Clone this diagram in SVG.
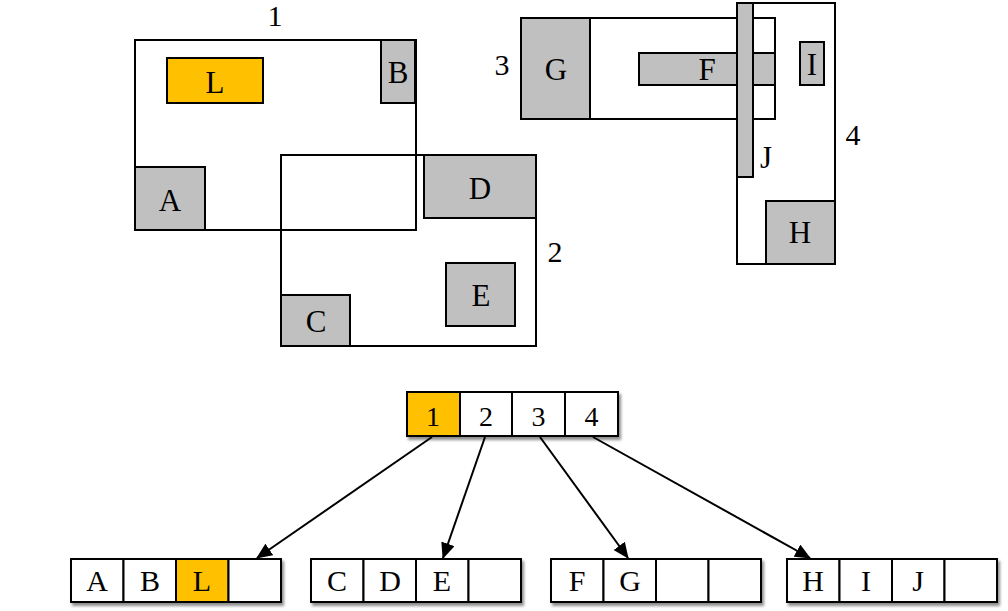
<svg xmlns="http://www.w3.org/2000/svg" width="1008" height="611" viewBox="0 0 1008 611">
<style>
text{font-family:"Liberation Serif","Times New Roman",serif;font-size:31px;fill:#000;text-anchor:middle}
.n{font-size:30px}
.t{font-size:30px}
.o{fill:none;stroke:#000;stroke-width:2}
.g{fill:#C0C0C0;stroke:#000;stroke-width:2}
.y{fill:#FFC000;stroke:#000;stroke-width:2}
.c{fill:#fff;stroke:#000;stroke-width:2}
.cy{fill:#FFC000;stroke:#000;stroke-width:2}
.d{font-size:28px}
.e{stroke:#000;stroke-width:2;fill:none}
</style>
<defs>
<filter id="sh" x="-10%" y="-20%" width="130%" height="160%">
<feDropShadow dx="2" dy="3" stdDeviation="1.5" flood-color="#000" flood-opacity="0.45"/>
</filter>
<marker id="ah" markerWidth="16" markerHeight="14" refX="15" refY="7" orient="auto" markerUnits="userSpaceOnUse">
<path d="M0,0 L16,7 L0,14 Z" fill="#000"/>
</marker>
</defs>
<rect width="1008" height="611" fill="#fff"/>

<g id="region1">
<rect class="o" x="135" y="40" width="281" height="190"/>
<text class="n" x="275" y="26">1</text>
</g>
<g id="region2">
<rect class="o" x="281" y="155" width="255" height="191"/>
<text class="n" x="555" y="262">2</text>
</g>
<g id="L"><rect class="y" x="167" y="58" width="96" height="45"/><text x="215" y="93">L</text></g>
<g id="B"><rect class="g" x="381" y="40" width="34" height="63"/><text x="398" y="83">B</text></g>
<g id="A"><rect class="g" x="135" y="167" width="70" height="63"/><text x="170" y="211">A</text></g>
<g id="D"><rect class="g" x="424" y="155" width="112" height="63"/><text x="480" y="199">D</text></g>
<g id="E"><rect class="g" x="446" y="263" width="69" height="63"/><text x="481" y="306">E</text></g>
<g id="C"><rect class="g" x="281" y="295" width="69" height="51"/><text x="316" y="332">C</text></g>

<g id="region3">
<rect class="o" x="521" y="18" width="254" height="101"/>
<text class="n" x="502" y="75">3</text>
</g>
<g id="region4">
<rect class="o" x="737" y="3" width="98" height="261"/>
<text class="n" x="853" y="145">4</text>
</g>
<g id="G"><rect class="g" x="521" y="18" width="69" height="101"/><text x="556" y="80">G</text></g>
<g id="F"><rect class="g" x="639" y="53" width="136" height="32"/><text x="707" y="80">F</text></g>
<g id="J"><rect class="g" x="737" y="3" width="16" height="174"/><text x="766" y="168">J</text></g>
<g id="I"><rect class="g" x="800" y="42" width="24" height="43"/><text x="812" y="75">I</text></g>
<g id="H"><rect class="g" x="766" y="201" width="69" height="63"/><text x="800" y="243">H</text></g>

<g id="root" filter="url(#sh)">
<rect class="cy" x="407" y="392" width="53" height="44"/>
<rect class="c" x="460" y="392" width="52" height="44"/>
<rect class="c" x="512" y="392" width="53" height="44"/>
<rect class="c" x="565" y="392" width="53" height="44"/>
</g>
<g id="root-labels">
<text class="d" x="433" y="426">1</text>
<text class="d" x="486" y="426">2</text>
<text class="d" x="538.5" y="426">3</text>
<text class="d" x="591.5" y="426">4</text>
</g>

<g id="leaf1">
<g filter="url(#sh)">
<rect class="c" x="71" y="559" width="52.5" height="43"/>
<rect class="c" x="123.5" y="559" width="52.5" height="43"/>
<rect class="cy" x="176" y="559" width="52.5" height="43"/>
<rect class="c" x="228.5" y="559" width="52.5" height="43"/>
</g>
<text class="t" x="97" y="591">A</text>
<text class="t" x="150" y="591">B</text>
<text class="t" x="202" y="591">L</text>
</g>
<g id="leaf2">
<g filter="url(#sh)">
<rect class="c" x="311" y="559" width="52.5" height="43"/>
<rect class="c" x="363.5" y="559" width="52.5" height="43"/>
<rect class="c" x="416" y="559" width="52.5" height="43"/>
<rect class="c" x="468.5" y="559" width="52.5" height="43"/>
</g>
<text class="t" x="337" y="591">C</text>
<text class="t" x="390" y="591">D</text>
<text class="t" x="442" y="591">E</text>
</g>
<g id="leaf3">
<g filter="url(#sh)">
<rect class="c" x="551" y="559" width="52.5" height="43"/>
<rect class="c" x="603.5" y="559" width="52.5" height="43"/>
<rect class="c" x="656" y="559" width="52.5" height="43"/>
<rect class="c" x="708.5" y="559" width="52.5" height="43"/>
</g>
<text class="t" x="577" y="591">F</text>
<text class="t" x="630" y="591">G</text>
</g>
<g id="leaf4">
<g filter="url(#sh)">
<rect class="c" x="787" y="559" width="52.5" height="43"/>
<rect class="c" x="839.5" y="559" width="52.5" height="43"/>
<rect class="c" x="892" y="559" width="52.5" height="43"/>
<rect class="c" x="944.5" y="559" width="52.5" height="43"/>
</g>
<text class="t" x="813" y="591">H</text>
<text class="t" x="866" y="591">I</text>
<text class="t" x="918" y="591">J</text>
</g>

<g id="connectors">
<line class="e" x1="432" y1="437" x2="257" y2="558" marker-end="url(#ah)"/>
<line class="e" x1="485" y1="437" x2="443" y2="558" marker-end="url(#ah)"/>
<line class="e" x1="540" y1="437" x2="628" y2="558" marker-end="url(#ah)"/>
<line class="e" x1="593" y1="437" x2="810" y2="558" marker-end="url(#ah)"/>
</g>
</svg>
